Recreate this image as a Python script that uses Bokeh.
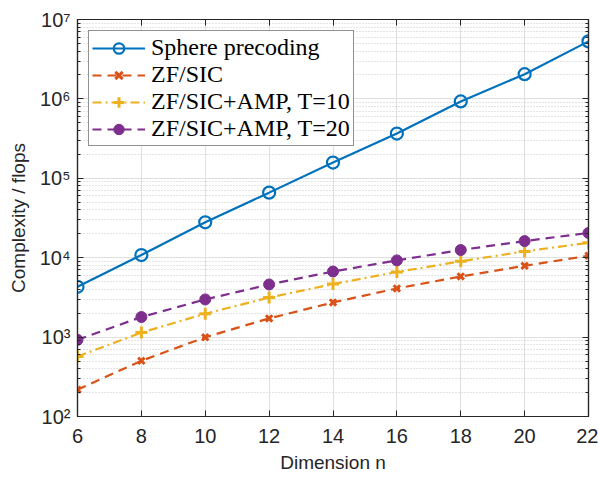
from bokeh.plotting import figure
from bokeh.models import (LogAxis, LinearAxis, Legend, LegendItem, Range1d, FixedTicker,
                          LogTicker, CustomJSTickFormatter)
from bokeh.embed import file_html
from bokeh.resources import INLINE

n = [6, 8, 10, 12, 14, 16, 18, 20, 22]
sphere = [4300, 10800, 27900, 66000, 158000, 366000, 930000, 2050000, 5300000]
zfsic = [218, 503, 995, 1720, 2730, 4100, 5800, 7900, 10600]
amp10 = [570, 1140, 1970, 3150, 4650, 6600, 9000, 12000, 15400]
amp20 = [925, 1790, 2980, 4600, 6700, 9250, 12500, 16200, 20500]
x_ticks = [6, 8, 10, 12, 14, 16, 18, 20, 22]
y_ticks = [1e2, 1e3, 1e4, 1e5, 1e6, 1e7]
y_labels = ["10²", "10³", "10⁴", "10⁵", "10⁶", "10⁷"]

BLUE = "#0072BD"
ORANGE = "#D95319"
YELLOW = "#EDB120"
PURPLE = "#7E2F8E"
AX = "#262626"

p = figure(width=598, height=478, y_axis_type="log", output_backend="svg",
           toolbar_location=None, x_range=Range1d(6, 22), y_range=Range1d(1e2, 1e7),
           min_border_left=77, min_border_right=10, min_border_top=19, min_border_bottom=62)

p.outline_line_color = AX
p.outline_line_width = 1.2

tick_font = "Liberation Sans"
for ax in [p.xaxis[0], p.yaxis[0]]:
    ax.major_label_text_font = tick_font
    ax.major_label_text_font_size = "20px"
    ax.major_label_text_color = AX
    ax.axis_label_text_font = tick_font
    ax.axis_label_text_font_size = "19px"
    ax.axis_label_text_font_style = "normal"
    ax.axis_label_text_color = AX
    ax.axis_line_color = AX
    ax.axis_line_width = 1.2
    ax.major_tick_in = 6
    ax.major_tick_out = 0
    ax.minor_tick_in = 3
    ax.minor_tick_out = 0
    ax.major_tick_line_color = AX
    ax.minor_tick_line_color = AX

p.xaxis[0].ticker = FixedTicker(ticks=x_ticks)
p.xaxis[0].minor_tick_line_color = None
p.xaxis[0].axis_label = "Dimension n"
p.xaxis[0].major_label_standoff = 12
p.xaxis[0].axis_label_standoff = 6
p.yaxis[0].ticker = LogTicker(desired_num_ticks=6, num_minor_ticks=10)
p.yaxis[0].major_label_overrides = {v: l for v, l in zip(y_ticks, y_labels)}
p.yaxis[0].axis_label = "Complexity / flops"
p.yaxis[0].major_label_standoff = 7
p.yaxis[0].axis_label_standoff = 8

blank = CustomJSTickFormatter(code="return '';")
right = LogAxis(ticker=LogTicker(desired_num_ticks=6, num_minor_ticks=10), formatter=blank,
                major_tick_in=6, major_tick_out=0, minor_tick_in=3, minor_tick_out=0,
                axis_line_color=AX, axis_line_width=1.2, major_tick_line_color=AX,
                minor_tick_line_color=AX, major_label_standoff=0)
p.add_layout(right, "right")
top = LinearAxis(ticker=FixedTicker(ticks=x_ticks), formatter=blank,
                 major_tick_in=6, major_tick_out=0, minor_tick_line_color=None,
                 axis_line_color=AX, axis_line_width=1.2, major_tick_line_color=AX,
                 major_label_standoff=0)
p.add_layout(top, "above")

p.xgrid.ticker = FixedTicker(ticks=x_ticks)
p.xgrid.grid_line_color = "#dfdfdf"
p.xgrid.grid_line_width = 1
p.ygrid.grid_line_color = "#dfdfdf"
p.ygrid.grid_line_width = 1
p.ygrid.minor_grid_line_color = "#c8c8c8"
p.ygrid.minor_grid_line_dash = "1 2"
p.ygrid.minor_grid_line_width = 1

l1 = p.line(n, sphere, color=BLUE, line_width=2.2)
m1 = p.scatter(n, sphere, marker="circle", size=12, fill_color=None, line_color=BLUE, line_width=2.2)
l2 = p.line(n, zfsic, color=ORANGE, line_width=2.2, line_dash="9 6")
m2 = p.scatter(n, zfsic, marker="x", size=9, line_color=ORANGE, line_width=3)
l3 = p.line(n, amp10, color=YELLOW, line_width=2.2, line_dash="9 4 2 4")
m3 = p.scatter(n, amp10, marker="cross", size=12, line_color=YELLOW, line_width=3)
l4 = p.line(n, amp20, color=PURPLE, line_width=2.2, line_dash="9 6")
m4 = p.scatter(n, amp20, marker="circle", size=11, fill_color=PURPLE, line_color=PURPLE)

legend = Legend(items=[
    LegendItem(label="Sphere precoding", renderers=[l1, m1]),
    LegendItem(label="ZF/SIC", renderers=[l2, m2]),
    LegendItem(label="ZF/SIC+AMP, T=10", renderers=[l3, m3]),
    LegendItem(label="ZF/SIC+AMP, T=20", renderers=[l4, m4]),
], location="top_left")
legend.label_text_font = "Liberation Serif"
legend.label_text_font_size = "24px"
legend.label_text_color = "black"
legend.border_line_color = AX
legend.border_line_width = 1.2
legend.margin = 11
legend.padding = 3
legend.spacing = 0
legend.glyph_width = 53
legend.glyph_height = 26
legend.label_standoff = 6
legend.label_height = 26
p.add_layout(legend)

open("out.html", "w").write(file_html(p, INLINE))
